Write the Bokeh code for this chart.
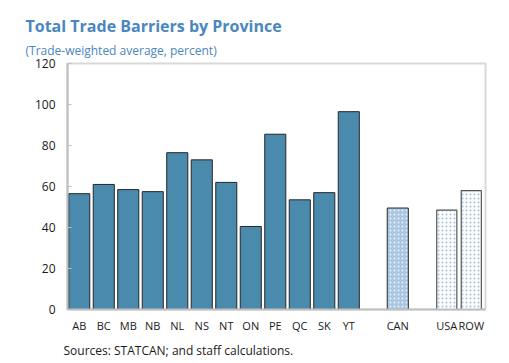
from bokeh.plotting import figure
from bokeh.models import Range1d, FixedTicker, Title
from bokeh.embed import file_html
from bokeh.resources import INLINE

provinces = ["AB", "BC", "MB", "NB", "NL", "NS", "NT", "ON", "PE", "QC", "SK", "YT"]
province_values = [56.5, 61, 58.5, 57.5, 76.5, 73, 62, 40.5, 85.5, 53.5, 57, 96.5]
can_label = ["CAN"]
can_values = [49.5]
intl_labels = ["USA", "ROW"]
intl_values = [48.5, 58]
y_ticks = [0, 20, 40, 60, 80, 100, 120]

prov_x = list(range(len(provinces)))
can_x = [len(provinces) + 1]
intl_x = [len(provinces) + 3, len(provinces) + 4]

p = figure(width=509, height=363, output_backend="svg", toolbar_location=None,
           x_range=Range1d(-0.48, 16.58), y_range=Range1d(0, 120),
           min_border_left=67, min_border_right=24, min_border_top=63, min_border_bottom=10)

p.title.text = "Total Trade Barriers by Province"
p.title.text_font = "Open Sans"
p.title.text_font_size = "16px"
p.title.text_font_style = "bold"
p.title.text_color = "#4a86bf"
p.title.offset = -42
p.title.standoff = -5

sub = Title(text="(Trade-weighted average, percent)", text_font="Open Sans",
            text_font_size="12px", text_font_style="normal", text_color="#4a86bf",
            offset=-42, standoff=10)
p.add_layout(sub, "above")

src = Title(text="Sources: STATCAN; and staff calculations.", text_font="Open Sans",
            text_font_size="12px", text_font_style="normal", text_color="#1a1a1a",
            offset=-4, standoff=9)
p.add_layout(src, "below")

p.vbar(x=prov_x, top=province_values, width=0.86, fill_color="#4a8aad",
       line_color="#262626", line_width=1)
p.vbar(x=can_x, top=can_values, width=0.86, fill_color="#a9c5df",
       hatch_pattern="dot", hatch_color="#e8f0f8", hatch_scale=4,
       line_color="#262626", line_width=1)
p.vbar(x=intl_x, top=intl_values, width=0.82, fill_color="#ffffff",
       hatch_pattern="dot", hatch_color="#9fbedb", hatch_scale=4,
       line_color="#555555", line_width=1.2)

tick_pos = prov_x + can_x + intl_x
tick_labels = provinces + can_label + intl_labels
p.xaxis.ticker = FixedTicker(ticks=tick_pos)
p.xaxis.major_label_overrides = {x: l for x, l in zip(tick_pos, tick_labels)}
p.xaxis.major_tick_line_color = None
p.xaxis.minor_tick_line_color = None
p.xaxis.axis_line_color = "#bfbfbf"
p.xaxis.axis_line_width = 2
p.xaxis.major_label_text_font = "Open Sans"
p.xaxis.major_label_text_font_size = "11px"
p.xaxis.major_label_text_color = "#1a1a1a"
p.xaxis.major_label_standoff = 2

p.yaxis.ticker = FixedTicker(ticks=y_ticks)
p.yaxis.major_tick_in = 4
p.yaxis.major_tick_out = 0
p.yaxis.major_tick_line_color = "#bfbfbf"
p.yaxis.minor_tick_line_color = None
p.yaxis.axis_line_color = "#bfbfbf"
p.yaxis.axis_line_width = 2
p.yaxis.major_label_text_font = "Open Sans"
p.yaxis.major_label_text_font_size = "12px"
p.yaxis.major_label_text_color = "#1a1a1a"
p.yaxis.major_label_standoff = 12

p.xgrid.grid_line_color = None
p.ygrid.grid_line_color = None
p.outline_line_color = "#d9d9d9"
p.outline_line_width = 2

open("out.html", "w").write(file_html(p, INLINE))
